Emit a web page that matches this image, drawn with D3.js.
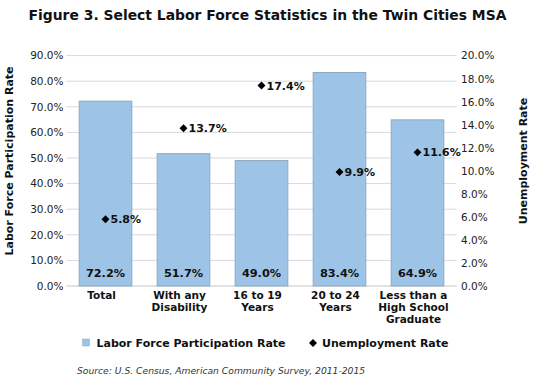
<!DOCTYPE html>
<html><head><meta charset="utf-8">
<script src="https://cdn.jsdelivr.net/npm/d3@7"></script>
<style>
body{margin:0;background:#fff;}
svg{display:block;font-family:"DejaVu Sans",Verdana,sans-serif;}
</style></head><body>
<svg id="c" width="535" height="378"></svg>
<script>
const categories = [["Total"],["With any","Disability"],["16 to 19","Years"],["20 to 24","Years"],["Less than a","High School","Graduate"]];
const categoryKeys = ["Total","With any Disability","16 to 19 Years","20 to 24 Years","Less than a High School Graduate"];
const participation = [72.2, 51.7, 49.0, 83.4, 64.9];
const unemployment = [5.8, 13.7, 17.4, 9.9, 11.6];
const leftTicks = [0,10,20,30,40,50,60,70,80,90];
const rightTicks = [0,2,4,6,8,10,12,14,16,18,20];
const title = "Figure 3. Select Labor Force Statistics in the Twin Cities MSA";
const leftTitle = "Labor Force Participation Rate";
const rightTitle = "Unemployment Rate";
const legendLabels = ["Labor Force Participation Rate","Unemployment Rate"];
const source = "Source: U.S. Census, American Community Survey, 2011-2015";

const svg = d3.select("#c");
const L = 66.5, R = 456.5, T = 55.6, B = 286;
const x = d3.scaleBand().domain(categoryKeys).range([L, R]).padding(0);
const yL = d3.scaleLinear().domain([0, 90]).range([B, T]);
const yR = d3.scaleLinear().domain([0, 20]).range([B, T]);
const barW = x.bandwidth() * 0.675;

// title
svg.append("text").attr("x", 267.5).attr("y", 20).attr("text-anchor", "middle")
  .attr("font-size", 13.9).attr("font-weight", "bold").attr("fill", "#111").text(title);

// gridlines
svg.append("g").selectAll("line").data(leftTicks).join("line")
  .attr("x1", L).attr("x2", R).attr("y1", d => yL(d)).attr("y2", d => yL(d))
  .attr("stroke", "#d9d9d9").attr("stroke-width", 1);

// axes
const fmt = d => d.toFixed(1) + "%";
const gl = svg.append("g").attr("transform", `translate(${L},0)`)
  .call(d3.axisLeft(yL).tickValues(leftTicks).tickFormat(fmt).tickSize(0).tickPadding(3));
const gr = svg.append("g").attr("transform", `translate(${R},0)`)
  .call(d3.axisRight(yR).tickValues(rightTicks).tickFormat(fmt).tickSize(0).tickPadding(4.5));
[gl, gr].forEach(g => {
  g.select(".domain").remove();
  g.selectAll("text").attr("font-size", 10.5).attr("fill", "#222").attr("font-family", "DejaVu Sans");
});

// baseline
svg.append("line").attr("x1", L).attr("x2", R).attr("y1", B).attr("y2", B).attr("stroke", "#d9d9d9");

// bars
const cx = (i) => x(categoryKeys[i]) + x.bandwidth() / 2;
svg.append("g").selectAll("rect").data(participation).join("rect")
  .attr("x", (d, i) => cx(i) - barW / 2).attr("width", barW)
  .attr("y", d => yL(d)).attr("height", d => B - yL(d))
  .attr("fill", "#9dc3e6").attr("stroke", "#8ea9c1").attr("stroke-width", 1);

// bar value labels
svg.append("g").selectAll("text").data(participation).join("text")
  .attr("x", (d, i) => cx(i)).attr("y", 277).attr("text-anchor", "middle")
  .attr("font-size", 11.3).attr("font-weight", "bold").attr("fill", "#111")
  .text(d => d.toFixed(1) + "%");

// diamonds
const diamond = d3.symbol().type(d3.symbolDiamond2).size(40);
svg.append("g").selectAll("path").data(unemployment).join("path")
  .attr("d", diamond).attr("transform", (d, i) => `translate(${cx(i)},${yR(d)})`)
  .attr("fill", "#000");
svg.append("g").selectAll("text").data(unemployment).join("text")
  .attr("x", (d, i) => cx(i) + 5).attr("y", d => yR(d) + 4)
  .attr("font-size", 11).attr("font-weight", "bold").attr("fill", "#111")
  .text(d => d.toFixed(1) + "%");

// category labels
const cg = svg.append("g").selectAll("text").data(categories).join("text")
  .attr("text-anchor", "middle").attr("font-size", 10.5).attr("font-weight", "bold").attr("fill", "#111");
cg.each(function(lines, i) {
  d3.select(this).selectAll("tspan").data(lines).join("tspan")
    .attr("x", cx(i) - 4).attr("y", (d, j) => 299 + j * 12).text(d => d);
});

// axis titles
svg.append("text").attr("transform", "translate(13,161) rotate(-90)").attr("text-anchor", "middle")
  .attr("font-size", 11).attr("font-weight", "bold").attr("fill", "#111").text(leftTitle);
svg.append("text").attr("transform", "translate(527,161) rotate(-90)").attr("text-anchor", "middle")
  .attr("font-size", 11).attr("font-weight", "bold").attr("fill", "#111").text(rightTitle);

// legend
svg.append("rect").attr("x", 82.5).attr("y", 339).attr("width", 7).attr("height", 7)
  .attr("fill", "#9dc3e6").attr("stroke", "#8ea9c1").attr("stroke-width", 0.5);
svg.append("text").attr("x", 96.5).attr("y", 347).attr("font-size", 11).attr("font-weight", "bold")
  .attr("fill", "#111").text(legendLabels[0]);
svg.append("path").attr("d", diamond).attr("transform", "translate(313,343)").attr("fill", "#000");
svg.append("text").attr("x", 322).attr("y", 347).attr("font-size", 11).attr("font-weight", "bold")
  .attr("fill", "#111").text(legendLabels[1]);

// source
svg.append("text").attr("x", 77).attr("y", 374).attr("font-size", 9.2).attr("font-style", "italic")
  .attr("fill", "#333").text(source);
</script>
</body></html>
